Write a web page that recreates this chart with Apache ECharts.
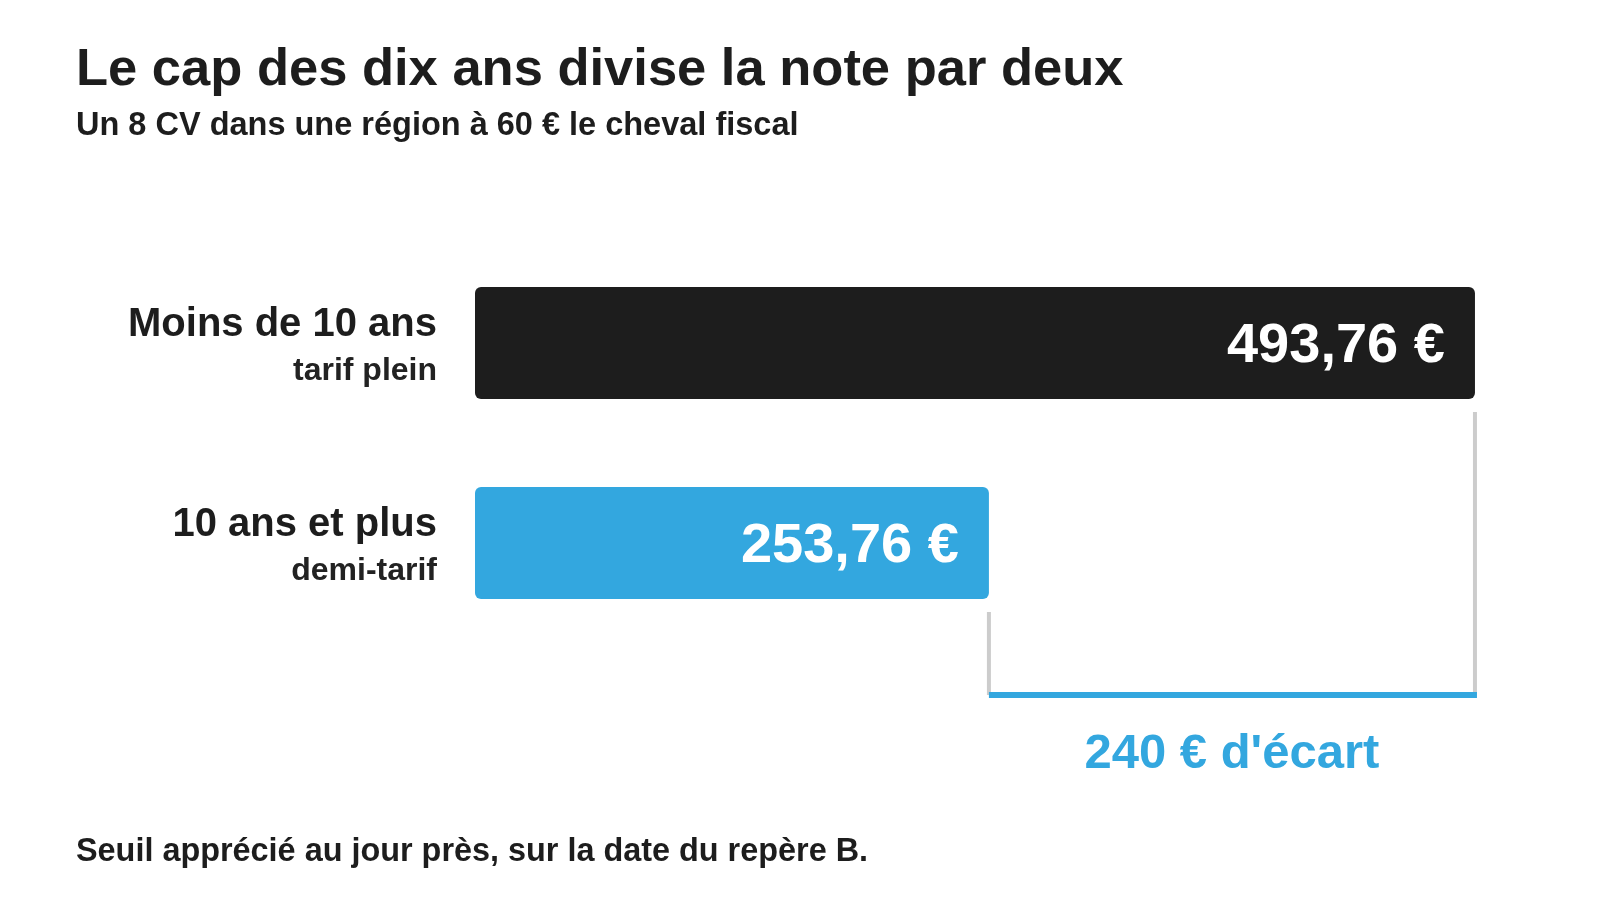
<!DOCTYPE html>
<html>
<head>
<meta charset="utf-8">
<title>Le cap des dix ans divise la note par deux</title>
<script src="https://cdn.jsdelivr.net/npm/echarts@6/dist/echarts.min.js"></script>
<style>
  html, body { margin: 0; padding: 0; background: #fff; }
  #main { width: 1600px; height: 900px; }
</style>
</head>
<body>
<div id="main"></div>
<script>
// données
var categories = ['Moins de 10 ans', '10 ans et plus'];
var subLabels = ['tarif plein', 'demi-tarif'];
var values = [493.76, 253.76];
var barColors = ['#1d1d1d', '#33a7df'];

var FONT = '"Liberation Sans", Arial, Helvetica, sans-serif';
var BLUE = '#33a7df';
var INK = '#1d1d1d';

function euro(v) {
    return v.toFixed(2).replace('.', ',') + ' €';
}

var gap = values[0] - values[1];

var myChart = echarts.init(document.getElementById('main'));

var option = {
    backgroundColor: '#ffffff',
    animation: false,
    title: [
        {
            text: 'Le cap des dix ans divise la note par deux',
            left: 76, top: 44, padding: 0,
            textStyle: { fontFamily: FONT, fontSize: 52.5, fontWeight: 'bold', color: INK }
        },
        {
            text: 'Un 8 CV dans une région à 60 € le cheval fiscal',
            left: 76, top: 110, padding: 0,
            textStyle: { fontFamily: FONT, fontSize: 32.5, fontWeight: 'bold', color: INK }
        },
        {
            text: 'Seuil apprécié au jour près, sur la date du repère B.',
            left: 76, top: 836, padding: 0,
            textStyle: { fontFamily: FONT, fontSize: 32.4, fontWeight: 'bold', color: INK }
        }
    ],
    grid: { left: 475, right: 112.4, top: 243, bottom: 257 },
    xAxis: {
        type: 'value',
        min: 0,
        max: 500,
        show: false
    },
    yAxis: {
        type: 'category',
        inverse: true,
        data: categories,
        axisLine: { show: false },
        axisTick: { show: false },
        splitLine: { show: false },
        axisLabel: {
            margin: 38,
            align: 'right',
            padding: [8, 0, 0, 0],
            formatter: function (val, idx) {
                return '{a|' + val + '}\n{b|' + subLabels[idx] + '}';
            },
            rich: {
                a: { fontFamily: FONT, fontSize: 40, fontWeight: 'bold', color: INK, lineHeight: 48, align: 'right' },
                b: { fontFamily: FONT, fontSize: 32, fontWeight: 'bold', color: '#222', lineHeight: 44, align: 'right' }
            }
        }
    },
    series: [
        {
            type: 'bar',
            barWidth: 112,
            data: values.map(function (v, i) {
                return { value: v, itemStyle: { color: barColors[i], borderRadius: 6 } };
            }),
            label: {
                show: true,
                position: 'insideRight',
                distance: 30,
                offset: [0, 4],
                formatter: function (p) { return euro(p.value); },
                fontFamily: FONT,
                fontSize: 56,
                fontWeight: 'bold',
                color: '#ffffff'
            }
        },
        {
            // accolade qui mesure l'écart entre les deux barres
            type: 'custom',
            clip: false,
            silent: true,
            encode: { x: [0, 1], y: 2 },
            data: [[values[1], values[0], 1]],
            renderItem: function (params, api) {
                var lo = api.coord([api.value(0), 1]);
                var hi = api.coord([api.value(1), 0]);
                var yBase = lo[1] + 152;
                return {
                    type: 'group',
                    children: [
                        {
                            type: 'line',
                            shape: { x1: hi[0], y1: hi[1] + 69, x2: hi[0], y2: yBase },
                            style: { stroke: '#cccccc', lineWidth: 4 }
                        },
                        {
                            type: 'line',
                            shape: { x1: lo[0], y1: lo[1] + 69, x2: lo[0], y2: yBase },
                            style: { stroke: '#cccccc', lineWidth: 4 }
                        },
                        {
                            type: 'rect',
                            shape: { x: lo[0], y: yBase - 3, width: hi[0] - lo[0] + 2, height: 6 },
                            style: { fill: BLUE }
                        },
                        {
                            type: 'text',
                            style: {
                                x: (lo[0] + hi[0]) / 2,
                                y: lo[1] + 211,
                                text: Math.round(gap) + " € d'écart",
                                fontFamily: FONT,
                                fontSize: 49,
                                fontWeight: 'bold',
                                fill: BLUE,
                                align: 'center',
                                verticalAlign: 'middle'
                            }
                        }
                    ]
                };
            }
        }
    ]
};

myChart.setOption(option);
</script>
</body>
</html>
